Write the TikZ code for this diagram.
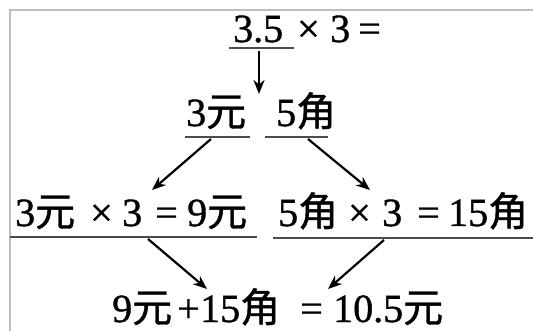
\documentclass[tikz,border=0pt]{standalone}
\usepackage{fontspec}
\setmainfont{Liberation Serif}[FakeBold=1]
\newfontfamily\cjkfont{Noto Sans CJK SC}[FakeBold=1]
\newcommand\Yuan{{\cjkfont 元}}
\newcommand\Jiao{{\cjkfont 角}}
\usetikzlibrary{arrows.meta}
\begin{document}
\begin{tikzpicture}[x=1pt,y=-1pt,
  txt/.style={anchor=base west, inner sep=0pt, font=\fontsize{40}{40}\selectfont},
  uline/.style={draw=black!70, line width=2.8pt},
  frame/.style={draw=black!25, line width=1.5pt},
  arr/.style={line width=2.2pt, -{Stealth[length=14pt,width=11pt]}}]
\useasboundingbox (0,0) rectangle (533,331);
% frame
\draw[frame] (10,331) -- (10,10) -- (533,10);
% row 1
\node[txt] (r1a) at (233,42) {3.5};
\node[txt] (r1b) at (297,42) {×};
\node[txt] (r1c) at (330,42) {3};
\node[txt] (r1d) at (358,42) {=};
\draw[uline] (229,48) -- (294,48);
% row 2
\node[txt] (r2a) at (186,126) {3\Yuan};
\node[txt] (r2b) at (276,126) {5\Jiao};
\draw[uline] (185,137) -- (250,137);
\draw[uline] (265,137) -- (328,137);
% row 3 left
\node[txt] (l1) at (15,226) {3\Yuan};
\node[txt] (l2) at (90,226) {×};
\node[txt] (l3) at (122,226) {3};
\node[txt] (l4) at (155,226) {=};
\node[txt] (l5) at (187,226) {9\Yuan};
\draw[uline] (10,237) -- (257,237);
% row 3 right
\node[txt] (q1) at (278,226) {5\Jiao};
\node[txt] (q2) at (348,226) {×};
\node[txt] (q3) at (382,226) {3};
\node[txt] (q4) at (417,226) {=};
\node[txt] (q5) at (448,226) {15\Jiao};
\draw[uline] (273,238) -- (533,238);
% row 4
\node[txt] (b1) at (112,322) {9\Yuan};
\node[txt] (b2) at (177,322) {+};
\node[txt] (b3) at (200,322) {15\Jiao};
\node[txt] (b4) at (300,322) {=};
\node[txt] (b5) at (333,322) {10.5\Yuan};
% arrow coordinates
\coordinate (s0) at (259,51);
\coordinate (t0) at (259,94);
\coordinate (s1) at (211,139);
\coordinate (t1) at (152,190);
\coordinate (s2) at (308,139);
\coordinate (t2) at (370,190);
\coordinate (s3) at (148,239);
\coordinate (t3) at (207,289);
\coordinate (s4) at (384,240);
\coordinate (t4) at (328,289);
\draw[arr] (s0) -- (t0);
\draw[arr] (s1) -- (t1);
\draw[arr] (s2) -- (t2);
\draw[arr] (s3) -- (t3);
\draw[arr] (s4) -- (t4);
\end{tikzpicture}
\end{document}
